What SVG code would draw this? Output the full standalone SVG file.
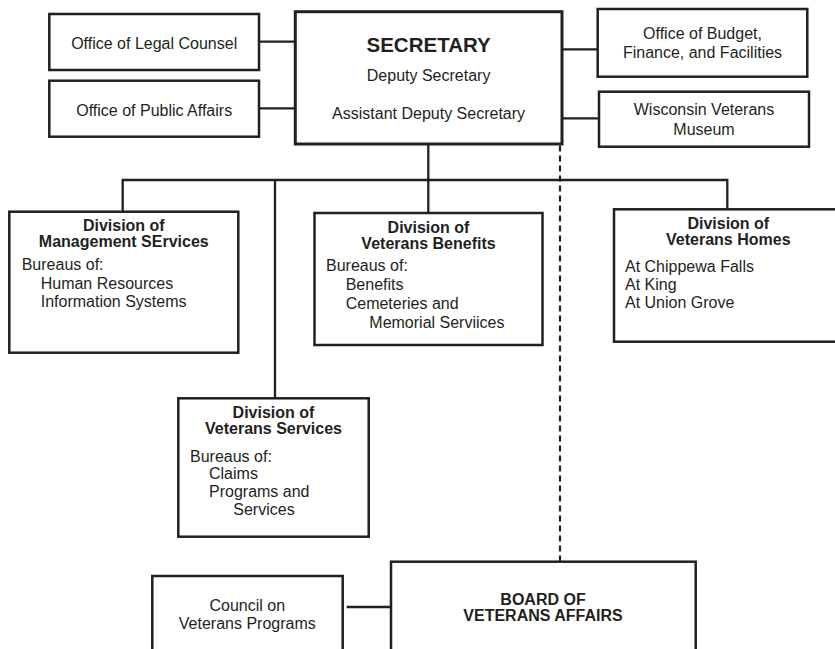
<svg xmlns="http://www.w3.org/2000/svg" width="835" height="649" viewBox="0 0 835 649">
<style>
.box{fill:#fff;stroke:#231f20;stroke-width:2.5}
.sec{fill:#fff;stroke:#231f20;stroke-width:3}
.ln{fill:none;stroke:#231f20;stroke-width:2.3}
.dash{fill:none;stroke:#231f20;stroke-width:2.2;stroke-dasharray:6 4}
text{font-family:"Liberation Sans",Arial,sans-serif;font-size:16px;fill:#231f20}
.c{text-anchor:middle}
.b{font-weight:bold}
</style>
<rect width="835" height="649" fill="#fff"/>
<g id="connectors">
<line class="ln" x1="259" y1="41.7" x2="295.3" y2="41.7"/>
<line class="ln" x1="259" y1="108.3" x2="295.3" y2="108.3"/>
<line class="ln" x1="562" y1="49.3" x2="597.7" y2="49.3"/>
<line class="ln" x1="562" y1="118.3" x2="599" y2="118.3"/>
<line class="ln" x1="428.3" y1="144" x2="428.3" y2="213"/>
<polyline class="ln" points="122.7,211.7 122.7,180 727.3,180 727.3,209.3"/>
<line class="ln" x1="275" y1="180" x2="275" y2="398.3"/>
<line class="dash" x1="560" y1="145.5" x2="560" y2="561.7"/>
<line class="ln" x1="346.7" y1="607" x2="391" y2="607"/>
</g>
<g id="legal">
<rect class="box" x="49.3" y="14" width="209.7" height="56"/>
<text class="c" x="154.2" y="49.3">Office of Legal Counsel</text>
</g>
<g id="public">
<rect class="box" x="49.3" y="80.7" width="209.7" height="56"/>
<text class="c" x="154.2" y="116">Office of Public Affairs</text>
</g>
<g id="secretary">
<rect class="sec" x="295.3" y="11.7" width="266.7" height="132.3"/>
<text class="c b" x="428.6" y="51.7" style="font-size:20.5px">SECRETARY</text>
<text class="c" x="428.6" y="81">Deputy Secretary</text>
<text class="c" x="428.6" y="119">Assistant Deputy Secretary</text>
</g>
<g id="budget">
<rect class="box" x="597.7" y="9" width="209.6" height="67.7"/>
<text class="c" x="702.5" y="38.5">Office of Budget,</text>
<text class="c" x="702.5" y="58.3">Finance, and Facilities</text>
</g>
<g id="museum">
<rect class="box" x="599" y="91.7" width="210" height="55"/>
<text class="c" x="704" y="115">Wisconsin Veterans</text>
<text class="c" x="704" y="135">Museum</text>
</g>
<g id="management">
<rect class="box" x="9.3" y="211.7" width="229" height="141"/>
<text class="c b" x="123.8" y="231">Division of</text>
<text class="c b" x="123.8" y="247">Management SErvices</text>
<text x="21.7" y="270">Bureaus of:</text>
<text x="40.7" y="288.5">Human Resources</text>
<text x="40.7" y="307">Information Systems</text>
</g>
<g id="benefits">
<rect class="box" x="314.5" y="213" width="228" height="132"/>
<text class="c b" x="428.5" y="233">Division of</text>
<text class="c b" x="428.5" y="249">Veterans Benefits</text>
<text x="326" y="271">Bureaus of:</text>
<text x="345.7" y="290">Benefits</text>
<text x="345.7" y="309">Cemeteries and</text>
<text x="369.3" y="328">Memorial Serviices</text>
</g>
<g id="homes">
<rect class="box" x="614" y="209.3" width="240" height="132.4"/>
<text class="c b" x="728.3" y="229">Division of</text>
<text class="c b" x="728.3" y="245">Veterans Homes</text>
<text x="625" y="272">At Chippewa Falls</text>
<text x="625" y="290">At King</text>
<text x="625" y="308">At Union Grove</text>
</g>
<g id="services">
<rect class="box" x="178.3" y="398.3" width="190.4" height="138.4"/>
<text class="c b" x="273.5" y="418">Division of</text>
<text class="c b" x="273.5" y="434">Veterans Services</text>
<text x="190" y="461.5">Bureaus of:</text>
<text x="209" y="479">Claims</text>
<text x="209" y="497">Programs and</text>
<text x="233.3" y="515">Services</text>
</g>
<g id="council">
<rect class="box" x="152.3" y="576" width="190.4" height="90"/>
<text class="c" x="247.3" y="610.7">Council on</text>
<text class="c" x="247.3" y="628.5">Veterans Programs</text>
</g>
<g id="board">
<rect class="box" x="391" y="561.7" width="304.7" height="110"/>
<text class="c b" x="543" y="605">BOARD OF</text>
<text class="c b" x="543" y="621">VETERANS AFFAIRS</text>
</g>
</svg>
